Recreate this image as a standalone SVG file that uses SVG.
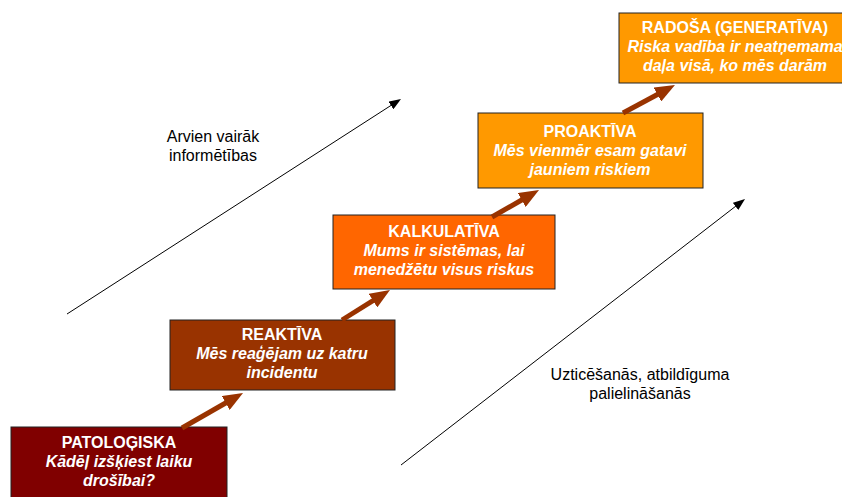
<svg xmlns="http://www.w3.org/2000/svg" width="842" height="497" viewBox="0 0 842 497">
<style>
.box{stroke:#222;stroke-width:1}
.t{font-family:"Liberation Sans",Arial,sans-serif;font-size:16px;fill:#fff;text-anchor:middle;font-weight:bold}
.s{font-style:italic}
.lbl{font-family:"Liberation Sans",Arial,sans-serif;font-size:16px;fill:#000;text-anchor:middle}
.step{stroke:#993300;stroke-width:5;fill:none}
.axis{stroke:#000;stroke-width:1;fill:none}
</style>
<defs>
<marker id="bh" markerUnits="userSpaceOnUse" markerWidth="20" markerHeight="16" refX="8" refY="8" orient="auto" viewBox="0 0 20 16">
<path d="M0,0 L20,8 L0,16 z" fill="#993300"/>
</marker>
<marker id="ah" markerUnits="userSpaceOnUse" markerWidth="12" markerHeight="9" refX="4" refY="4.5" orient="auto" viewBox="0 0 12 9">
<path d="M0,0 L12,4.5 L0,9 z" fill="#000"/>
</marker>
</defs>
<rect width="842" height="497" fill="#fff"/>
<g id="label-info">
<text class="lbl" x="213" y="142">Arvien vairāk</text>
<text class="lbl" x="213" y="161">informētības</text>
</g>
<g id="label-trust">
<text class="lbl" x="640" y="380">Uzticēšanās, atbildīguma</text>
<text class="lbl" x="640" y="399">palielināšanās</text>
</g>
<g id="node-patologiska">
<rect class="box" x="11" y="427" width="216" height="80" fill="#800000"/>
<text class="t" x="119" y="448">PATOLOĢISKA</text>
<text class="t s" x="119" y="467">Kādēļ izšķiest laiku</text>
<text class="t s" x="119" y="486">drošībai?</text>
</g>
<g id="node-reaktiva">
<rect class="box" x="170" y="320" width="225" height="70" fill="#993300"/>
<text class="t" x="282" y="340">REAKTĪVA</text>
<text class="t s" x="282" y="359">Mēs reaģējam uz katru</text>
<text class="t s" x="282" y="378">incidentu</text>
</g>
<g id="node-kalkulativa">
<rect class="box" x="333" y="215" width="222" height="74" fill="#FF6600"/>
<text class="t" x="444" y="237">KALKULATĪVA</text>
<text class="t s" x="444" y="256">Mums ir sistēmas, lai</text>
<text class="t s" x="444" y="275">menedžētu visus riskus</text>
</g>
<g id="node-proaktiva">
<rect class="box" x="478" y="113" width="225" height="75" fill="#FF9900"/>
<text class="t" x="590" y="137">PROAKTĪVA</text>
<text class="t s" x="590" y="156">Mēs vienmēr esam gatavi</text>
<text class="t s" x="590" y="175">jauniem riskiem</text>
</g>
<g id="node-radosa">
<rect class="box" x="619" y="13" width="240" height="70" fill="#FF9900"/>
<text class="t" x="735" y="33">RADOŠA (ĢENERATĪVA)</text>
<text class="t s" x="735" y="52">Riska vadība ir neatņemama</text>
<text class="t s" x="735" y="71">daļa visā, ko mēs darām</text>
</g>
<g id="connectors">
<line class="step" x1="182" y1="428" x2="232.6" y2="399" marker-end="url(#bh)"/>
<line class="step" x1="342" y1="320" x2="379.8" y2="296.4" marker-end="url(#bh)"/>
<line class="step" x1="492" y1="217" x2="528.6" y2="196" marker-end="url(#bh)"/>
<line class="step" x1="623" y1="113" x2="664.4" y2="90.7" marker-end="url(#bh)"/>
<line class="axis" x1="67" y1="314" x2="394.3" y2="103.3" marker-end="url(#ah)"/>
<line class="axis" x1="401" y1="465" x2="738.7" y2="203.9" marker-end="url(#ah)"/>
</g>
</svg>
